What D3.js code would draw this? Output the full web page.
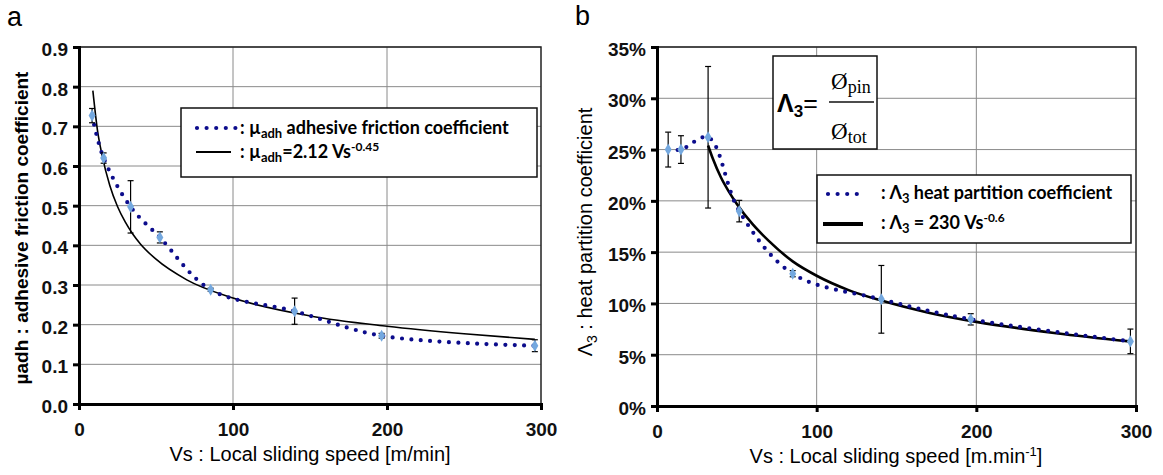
<!DOCTYPE html>
<html>
<head>
<meta charset="utf-8">
<script src="https://cdn.jsdelivr.net/npm/d3@7"></script>
<style>
  body { margin: 0; background: #fff; }
  text { font-family: "Liberation Sans", Arial, sans-serif; }
  .leg { font-family: Lato, "Open Sans", sans-serif; font-weight: bold; }
  .serif { font-family: "Liberation Serif", "Times New Roman", serif; }
</style>
</head>
<body>
<script>
const width = 1163;
const height = 475;

// ---- panel a : adhesive friction coefficient ----
const aPtsX = [8.5, 16, 33.5, 52.5, 85.5, 140, 196.5, 296];
const aPtsY = [0.727, 0.62, 0.497, 0.42, 0.288, 0.234, 0.172, 0.147];
const aErr  = [0.018, 0.013, 0.066, 0.014, 0.004, 0.033, 0.006, 0.015];
// fitted power law
const aFitX = [9, 12, 15, 20, 25, 30, 35, 40, 50, 70, 100, 150, 200, 250, 296];
const aFitY = [0.79, 0.69, 0.627, 0.551, 0.498, 0.459, 0.428, 0.403, 0.365, 0.313, 0.267, 0.222, 0.196, 0.177, 0.163];
const aYTicks = [0, 0.1, 0.2, 0.3, 0.4, 0.5, 0.6, 0.7, 0.8, 0.9];

// ---- panel b : heat partition coefficient (in %) ----
const bPtsX = [7, 15, 32, 51.5, 85, 140.5, 196.5, 296.5];
const bPtsY = [25.0, 25.0, 26.2, 19.0, 12.9, 10.4, 8.45, 6.3];
const bErr  = [1.7, 1.35, 6.9, 1.05, 0.3, 3.3, 0.55, 1.2];
const bFitX = [32, 35, 40, 45, 50, 60, 70, 85, 100, 120, 140, 170, 200, 250, 296];
const bFitY = [25.4, 24.1, 22.3, 20.9, 19.7, 17.7, 16.1, 14.1, 12.7, 11.3, 10.3, 9.1, 8.2, 7.1, 6.3];
const bYTicks = [0, 5, 10, 15, 20, 25, 30, 35];

const xTicks = [0, 100, 200, 300];

const svg = d3.select("body").append("svg")
    .attr("width", width)
    .attr("height", height);

function drawPanel(o) {
    const g = svg.append("g");
    const x = o.x, y = o.y;
    const [x0, x1] = x.range();
    const [y0, y1] = y.range();

    // gridlines
    g.selectAll(".hg").data(o.yTicks.slice(1)).enter().append("line")
        .attr("x1", x0).attr("x2", x1)
        .attr("y1", d => y(d)).attr("y2", d => y(d))
        .attr("stroke", "#8a8a8a").attr("stroke-width", 1);
    g.selectAll(".vg").data(xTicks.slice(1, 3)).enter().append("line")
        .attr("x1", d => x(d)).attr("x2", d => x(d))
        .attr("y1", y0).attr("y2", y1)
        .attr("stroke", "#8a8a8a").attr("stroke-width", 1);

    // top / right frame
    g.append("path")
        .attr("d", `M${x0},${y1}H${x1}V${y0}`)
        .attr("fill", "none").attr("stroke", "#222").attr("stroke-width", 1.5);

    // axes
    const ax = g.append("g")
        .attr("transform", `translate(0,${y0})`)
        .call(d3.axisBottom(x).tickValues(xTicks).tickSize(6).tickPadding(8).tickFormat(d3.format("d")));
    const ay = g.append("g")
        .attr("transform", `translate(${x0},0)`)
        .call(d3.axisLeft(y).tickValues(o.yTicks).tickSize(6).tickPadding(5).tickFormat(o.fmt));
    [ax, ay].forEach(a => {
        a.select(".domain").attr("stroke", "#000").attr("stroke-width", 3);
        a.selectAll(".tick line").attr("stroke", "#000").attr("stroke-width", 3);
        a.selectAll(".tick text")
            .attr("fill", "#111")
            .style("font-family", "'Liberation Sans', Arial, sans-serif")
            .style("font-size", "19px")
            .style("font-weight", "bold");
    });
    ax.selectAll(".tick text").attr("dy", "0.95em");
    ay.selectAll(".tick text").attr("dy", "0.45em");

    // fitted curve
    g.append("path")
        .datum(o.fitX.map((v, i) => [v, o.fitY[i]]))
        .attr("d", d3.line().x(d => x(d[0])).y(d => y(d[1])).curve(d3.curveMonotoneX))
        .attr("fill", "none").attr("stroke", "#000").attr("stroke-width", o.fitW);

    // measured series, smoothed round-dot line
    const pts = o.ptsX.map((v, i) => ({ x: v, y: o.ptsY[i], e: o.err[i] }));
    g.append("path")
        .datum(pts)
        .attr("d", d3.line().x(d => x(d.x)).y(d => y(d.y)).curve(d3.curveCatmullRom.alpha(0.5)))
        .attr("fill", "none").attr("stroke", "#0c0c8c")
        .attr("stroke-width", 4.2).attr("stroke-linecap", "round")
        .attr("stroke-dasharray", "0 9.4");

    // error bars
    const eb = g.selectAll(".eb").data(pts).enter().append("g");
    eb.append("line")
        .attr("x1", d => x(d.x)).attr("x2", d => x(d.x))
        .attr("y1", d => y(d.y - d.e)).attr("y2", d => y(d.y + d.e))
        .attr("stroke", "#000").attr("stroke-width", 1.2);
    eb.selectAll(".cap").data(d => [[d.x, d.y - d.e], [d.x, d.y + d.e]]).enter().append("line")
        .attr("x1", d => x(d[0]) - 3).attr("x2", d => x(d[0]) + 3)
        .attr("y1", d => y(d[1])).attr("y2", d => y(d[1]))
        .attr("stroke", "#000").attr("stroke-width", 1.2);

    // diamond markers
    g.selectAll(".mk").data(pts).enter().append("path")
        .attr("d", d3.symbol(d3.symbolDiamond, 42))
        .attr("transform", d => `translate(${x(d.x)},${y(d.y)})`)
        .attr("fill", "#74a8df");

    return g;
}

// ---------- panel a ----------
const xa = d3.scaleLinear().domain([0, 300]).range([79, 541]);
const ya = d3.scaleLinear().domain([0, 0.9]).range([404, 47]);
drawPanel({ x: xa, y: ya, yTicks: aYTicks, fmt: d3.format(".1f"),
    ptsX: aPtsX, ptsY: aPtsY, err: aErr, fitX: aFitX, fitY: aFitY, fitW: 1.6 });

svg.append("text").attr("x", 7).attr("y", 26)
    .style("font-size", "27px").text("a");

svg.append("text")
    .attr("transform", "translate(28,228) rotate(-90)")
    .attr("text-anchor", "middle")
    .style("font-size", "19px").style("font-weight", "bold")
    .text("\u00b5adh : adhesive friction coefficient");

svg.append("text")
    .attr("x", 310).attr("y", 461)
    .attr("text-anchor", "middle")
    .style("font-size", "20px")
    .text("Vs : Local sliding speed [m/min]");

// legend a
const la = svg.append("g");
la.append("rect").attr("x", 181).attr("y", 108).attr("width", 356).attr("height", 69)
    .attr("fill", "#fff").attr("stroke", "#111").attr("stroke-width", 1.5);
la.append("line").attr("x1", 197).attr("x2", 236).attr("y1", 128).attr("y2", 128)
    .attr("stroke", "#0c0c8c").attr("stroke-width", 4.2).attr("stroke-linecap", "round")
    .attr("stroke-dasharray", "0 9.6");
la.append("line").attr("x1", 196).attr("x2", 231).attr("y1", 152).attr("y2", 152)
    .attr("stroke", "#000").attr("stroke-width", 2);
const ta1 = la.append("text").attr("class", "leg").attr("x", 240).attr("y", 134).style("font-size", "18px");
ta1.append("tspan").text(": \u00b5");
ta1.append("tspan").attr("dy", 4).style("font-size", "13px").text("adh");
ta1.append("tspan").attr("dy", -4).text(" adhesive friction coefficient");
const ta2 = la.append("text").attr("class", "leg").attr("x", 240).attr("y", 158).style("font-size", "18px");
ta2.append("tspan").text(": \u00b5");
ta2.append("tspan").attr("dy", 4).style("font-size", "13px").text("adh");
ta2.append("tspan").attr("dy", -4).text("=2.12 Vs");
ta2.append("tspan").attr("dy", -7).style("font-size", "12px").text("-0.45");

// ---------- panel b ----------
const xb = d3.scaleLinear().domain([0, 300]).range([657, 1136]);
const yb = d3.scaleLinear().domain([0, 35]).range([406, 47]);
drawPanel({ x: xb, y: yb, yTicks: bYTicks, fmt: d => d + "%",
    ptsX: bPtsX, ptsY: bPtsY, err: bErr, fitX: bFitX, fitY: bFitY, fitW: 2.6 });

svg.append("text").attr("x", 575).attr("y", 25)
    .style("font-size", "27px").text("b");

const tb = svg.append("text")
    .attr("transform", "translate(592,232) rotate(-90)")
    .attr("text-anchor", "middle")
    .style("font-size", "20px");
tb.append("tspan").text("\u039b");
tb.append("tspan").attr("dy", 5).style("font-size", "14px").text("3");
tb.append("tspan").attr("dy", -5).text(" : heat partition coefficient");

const xtb = svg.append("text")
    .attr("x", 896).attr("y", 463)
    .attr("text-anchor", "middle")
    .style("font-size", "20px");
xtb.append("tspan").text("Vs : Local sliding speed [m.min");
xtb.append("tspan").attr("dy", -7).style("font-size", "13px").text("-1");
xtb.append("tspan").attr("dy", 7).text("]");

// formula box
const fb = svg.append("g");
fb.append("rect").attr("x", 773).attr("y", 56).attr("width", 104).attr("height", 93)
    .attr("fill", "#fff").attr("stroke", "#111").attr("stroke-width", 1.5);
const fl = fb.append("text").attr("x", 777).attr("y", 112)
    .style("font-size", "25px").style("font-weight", "bold");
fl.append("tspan").text("\u039b");
fl.append("tspan").attr("dy", 5).style("font-size", "17px").text("3");
fl.append("tspan").attr("dy", -5).style("font-weight", "normal").text("=");
fb.append("line").attr("x1", 829).attr("x2", 874).attr("y1", 102).attr("y2", 102)
    .attr("stroke", "#111").attr("stroke-width", 1.3);
const fn = fb.append("text").attr("class", "serif").attr("x", 831).attr("y", 89).style("font-size", "23px");
fn.append("tspan").text("\u00d8");
fn.append("tspan").attr("dy", 4).style("font-size", "18px").text("pin");
const fd = fb.append("text").attr("class", "serif").attr("x", 831).attr("y", 139).style("font-size", "23px");
fd.append("tspan").text("\u00d8");
fd.append("tspan").attr("dy", 4).style("font-size", "18px").text("tot");

// legend b
const lb = svg.append("g");
lb.append("rect").attr("x", 817).attr("y", 175).attr("width", 314).attr("height", 68)
    .attr("fill", "#fff").attr("stroke", "#111").attr("stroke-width", 1.5);
lb.append("line").attr("x1", 828).attr("x2", 857).attr("y1", 194).attr("y2", 194)
    .attr("stroke", "#0c0c8c").attr("stroke-width", 4.2).attr("stroke-linecap", "round")
    .attr("stroke-dasharray", "0 9.6");
lb.append("line").attr("x1", 823).attr("x2", 863).attr("y1", 224).attr("y2", 224)
    .attr("stroke", "#000").attr("stroke-width", 4);
const tb1 = lb.append("text").attr("class", "leg").attr("x", 881).attr("y", 199).style("font-size", "18px");
tb1.append("tspan").text(": \u039b");
tb1.append("tspan").attr("dy", 4).style("font-size", "13px").text("3");
tb1.append("tspan").attr("dy", -4).text(" heat partition coefficient");
const tb2 = lb.append("text").attr("class", "leg").attr("x", 881).attr("y", 229).style("font-size", "18px");
tb2.append("tspan").text(": \u039b");
tb2.append("tspan").attr("dy", 4).style("font-size", "13px").text("3");
tb2.append("tspan").attr("dy", -4).text(" = 230 Vs");
tb2.append("tspan").attr("dy", -7).style("font-size", "12px").text("-0.6");
</script>
</body>
</html>
